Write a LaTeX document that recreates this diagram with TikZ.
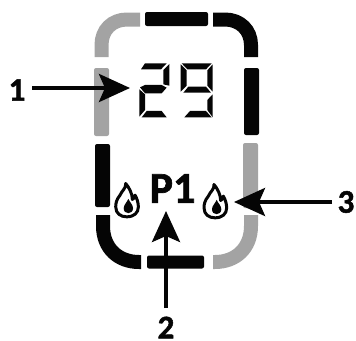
\documentclass[tikz,border=0pt]{standalone}
\usepackage{fontspec}
\setmainfont[BoldFeatures={FakeBold=1.5}]{Carlito}
\usetikzlibrary{arrows.meta}
\definecolor{seggray}{HTML}{A3A3A3}
\definecolor{segblack}{HTML}{050505}
\tikzset{
  x=1pt,y=-1pt,
  bar/.style={fill=#1,rounded corners=2pt},
  curve/.style={draw=#1,line width=14pt},
  digit/.style={fill=segblack},
  numlabel/.style={font=\fontsize{33}{33}\selectfont\bfseries,inner sep=0pt,text=segblack},
  callout/.style={draw=segblack,line width=4pt,-{Stealth[length=31pt,width=28pt,inset=6pt]}},
  pics/flame/.style={code={
    \begin{scope}[x=0.3333pt,y=-0.3333pt]
      \draw[segblack,line width=3pt,line join=round,fill=white]
        (0,0) .. controls (2,14) and (-12,22) .. (-17,35)
        .. controls (-28,48) and (-30,60) .. (-30,70)
        .. controls (-30,90) and (-15,100) .. (3,100)
        .. controls (25,100) and (38,88) .. (38,70)
        .. controls (38,58) and (34,45) .. (28,35)
        .. controls (26,42) and (24,46) .. (20,48)
        .. controls (20,30) and (10,12) .. (0,0) -- cycle;
      \fill[segblack] (8,46) .. controls (12,56) and (22,64) .. (22,74)
        .. controls (22,84) and (15,89) .. (8,89)
        .. controls (0,89) and (-6,84) .. (-6,74)
        .. controls (-6,64) and (4,56) .. (8,46) -- cycle;
    \end{scope}
  }}
}
\begin{document}
\begin{tikzpicture}
\useasboundingbox (0,0) rectangle (356,340);
% frame
\draw[curve=seggray] (101.5,57) -- (101.5,45) .. controls (101.5,30) and (112,19.5) .. (127,19.5) -- (140,19.5);
\fill[bar=segblack] (145,12) rectangle (208,26);
\draw[curve=segblack] (213,19.5) -- (225,19.5) .. controls (240,19.5) and (251,30) .. (251,45) -- (251,57);
\fill[bar=seggray] (94,68) rectangle (109,136);
\fill[bar=segblack] (244,68) rectangle (259,135);
\fill[bar=segblack] (95,144) rectangle (110,207);
\fill[bar=seggray] (243,143) rectangle (258,208);
\draw[curve=segblack] (103,215) -- (103,226) .. controls (103,248) and (118,262) .. (139,262) -- (141,262);
\fill[bar=segblack] (147,255.5) rectangle (204,268.5);
\draw[curve=seggray] (251,215) -- (251,226) .. controls (251,248) and (236,262) .. (215,262) -- (213,262);
% digits
\begin{scope}[shift={(130,55)},x=0.3333pt,y=-0.3333pt]
  \fill[digit] (45,25) -- (110,25) -- (93,43) -- (33,43) -- cycle;
  \fill[digit] (118,27) -- (118,92) -- (100,88) -- (100,45) -- cycle;
  \fill[digit] (30,97) -- (45,90) -- (95,90) -- (110,98) -- (95,115) -- (45,115) -- cycle;
  \fill[digit] (28,103) -- (45,118) -- (45,165) -- (28,185) -- cycle;
  \fill[digit] (35,187) -- (50,168) -- (95,168) -- (110,187) -- cycle;
  \fill[digit] (155,25) -- (245,25) -- (228,43) -- (172,43) -- cycle;
  \fill[digit] (152,28) -- (170,46) -- (170,92) -- (152,110) -- cycle;
  \fill[digit] (248,28) -- (248,110) -- (232,92) -- (232,46) -- cycle;
  \fill[digit] (160,113) -- (175,95) -- (228,95) -- (243,113) -- cycle;
  \fill[digit] (248,118) -- (248,187) -- (232,165) -- (232,135) -- cycle;
  \fill[digit] (163,187) -- (180,168) -- (228,168) -- (245,187) -- cycle;
\end{scope}
% flames
\pic at (125.7,183.5) {flame};
\pic at (214,184.5) {flame};
% text
\node[font=\fontsize{44}{44}\selectfont\bfseries,inner sep=0pt,text=segblack] (p1) at (172.5,188.5) {P1};
\node[numlabel] (lab1) at (17,90) {1};
\node[numlabel] (lab2) at (166,327.5) {2};
\node[numlabel] (lab3) at (346,202) {3};
% callouts
\coordinate (tip1) at (130,88);
\coordinate (tip2) at (166,211);
\coordinate (tip3) at (234,202);
\coordinate (tail1) at (32,88);
\coordinate (tail2) at (166,308);
\coordinate (tail3) at (332,202);
\draw[callout] (tail1) -- (tip1);
\draw[callout] (tail2) -- (tip2);
\draw[callout] (tail3) -- (tip3);
\end{tikzpicture}
\end{document}
